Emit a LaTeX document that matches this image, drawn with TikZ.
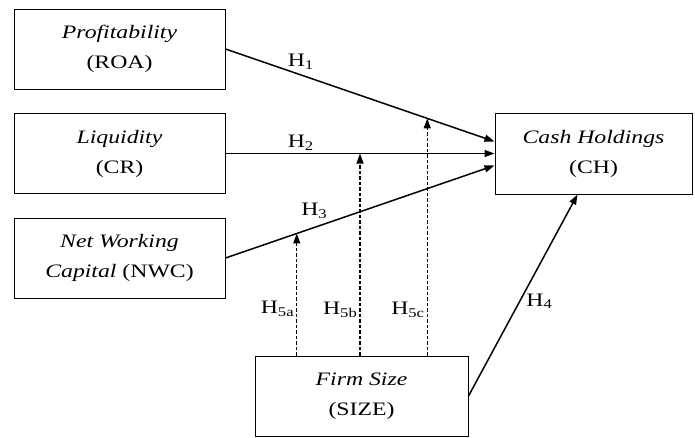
\documentclass[tikz,border=0pt]{standalone}
\usepackage{fontspec}
\setmainfont{Liberation Serif}[FakeStretch=1.25]
\usetikzlibrary{arrows.meta}

\tikzset{
  var/.style={draw, line width=1pt, inner sep=0pt, align=center,
    minimum width=211pt, minimum height=80pt, font=\fontsize{19}{30}\selectfont},
  link/.style={-{Triangle[length=10pt,width=7pt]}, line width=1.5pt},
  moderate/.style={link, line width=1.3pt, dash pattern=on 3.5pt off 2pt},
  hyp/.style={font=\fontsize{19}{22}\selectfont, inner sep=2pt}
}

\begin{document}
\begin{tikzpicture}[x=1pt, y=-1pt]
    \useasboundingbox (0,0) rectangle (695,437);

    % Independent variables
    \node[var] (roa) at (119.5,49) {\textit{Profitability}\\(ROA)};
    \node[var] (cr) at (119.5,153.5) {\textit{Liquidity}\\(CR)};
    \node[var] (nwc) at (119.5,258) {\textit{Net Working}\\\textit{Capital} (NWC)};

    % Dependent variable and moderator
    \node[var, minimum width=197pt, minimum height=81pt] (ch) at (593.5,153.5) {\textit{Cash Holdings}\\(CH)};
    \node[var, minimum width=213pt] (size) at (361.5,396) {\textit{Firm Size}\\(SIZE)};

    % Direct effects
    \draw[link] (roa.east) -- coordinate[pos=0.75] (m1)
        node[hyp, pos=0.28, above=3pt] {H\textsubscript{1}} ([yshift=12pt]ch.west);
    \draw[link] (cr.east) -- coordinate[pos=0.5] (m2)
        node[hyp, pos=0.28, above] {H\textsubscript{2}} (ch.west);
    \draw[link] (nwc.east) -- coordinate[pos=0.265] (m3)
        node[hyp, pos=0.33, above=6pt] {H\textsubscript{3}} ([yshift=-12pt]ch.west);
    \draw[link] (size.east) -- node[hyp, pos=0.47, right=4pt] {H\textsubscript{4}} ([xshift=-16pt]ch.south);

    % Moderating effects
    \draw[moderate] (size.north -| m3) -- node[hyp, pos=0.38, left=0pt] {H\textsubscript{5a}} (m3);
    \draw[moderate] (size.north -| m2) -- node[hyp, pos=0.227, left=0pt] {H\textsubscript{5b}} (m2);
    \draw[moderate] (size.north -| m1) -- node[hyp, pos=0.194, left=0pt] {H\textsubscript{5c}} (m1);
\end{tikzpicture}
\end{document}
